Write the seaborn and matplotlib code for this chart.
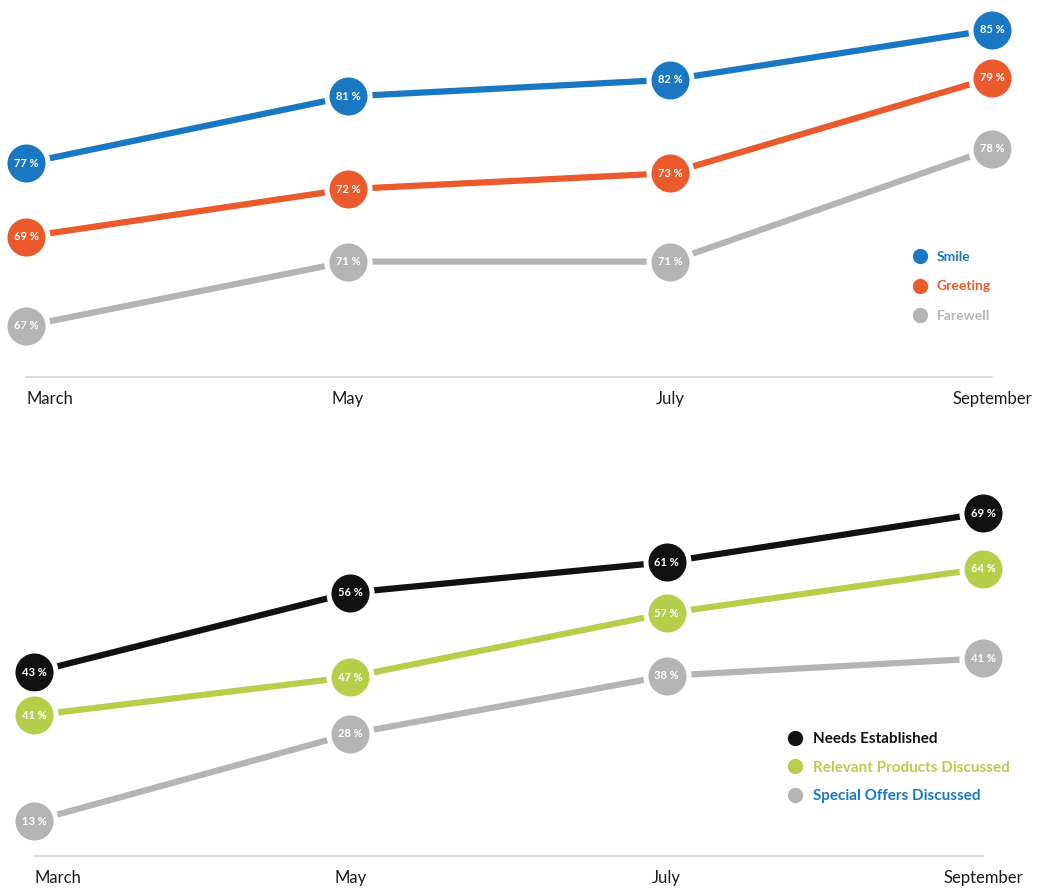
import matplotlib
matplotlib.use("Agg")
import matplotlib.pyplot as plt
from matplotlib.lines import Line2D
import seaborn as sns
import pandas as pd

months = ["March", "May", "July", "September"]

top_series = ["Smile", "Greeting", "Farewell"]
smile = [77, 81, 82, 85]
greeting = [69, 72, 73, 79]
farewell = [67, 71, 71, 78]

bottom_series = ["Needs Established", "Relevant Products Discussed", "Special Offers Discussed"]
needs = [43, 56, 61, 69]
relevant = [41, 47, 57, 64]
special = [13, 28, 38, 41]

top_colors = ["#1a78c2", "#ea5a2c", "#b4b4b4"]
bottom_colors = ["#111111", "#b6cf4b", "#b4b4b4"]
bottom_label_colors = ["#111111", "#b6cf4b", "#1a78c2"]

# each series sits on its own (hidden) value scale, as in the infographic
top_ylims = [(64.18, 85.22), (60.18, 82.26), (63.83, 85.63)]
bottom_ylims = [(12.96, 68.69), (18.95, 72.39), (6.98, 65.67)]

sns.set_theme(style="white")
plt.rcParams["font.family"] = ["Lato", "DejaVu Sans"]

W, H = 1040, 889
fig = plt.figure(figsize=(W / 100, H / 100), dpi=100)


def px_axes(x0, x1, y0, y1):
    return fig.add_axes([x0 / W, 1 - y1 / H, (x1 - x0) / W, (y1 - y0) / H])


def draw(ax, names, values, colors, label_colors, ylims, legend_anchor, legsize, spacing):
    xs = list(range(len(months)))
    ax.set_xlim(xs[0], xs[-1])
    ax.set_yticks([])
    for s in ["left", "right", "top"]:
        ax.spines[s].set_visible(False)
    ax.spines["bottom"].set_color("#d8d8d8")
    ax.spines["bottom"].set_linewidth(1.3)
    ax.set_xticks(xs)
    ax.set_xticklabels(months)
    ax.tick_params(axis="x", direction="inout", length=12, width=1.2,
                   color="#d0d0d0", pad=4, labelsize=12, labelcolor="#1a1a1a")
    ax.get_xticklabels()[0].set_horizontalalignment("left")
    ax.get_xticklabels()[0].set_x(-0.004)

    for name, vals, col, yl in zip(names, values, colors, ylims):
        tw = ax.twinx()
        for s in tw.spines.values():
            s.set_visible(False)
        tw.set_yticks([])
        df = pd.DataFrame({"x": xs, "value": vals})
        sns.lineplot(data=df, x="x", y="value", color=col, marker="o",
                     markersize=31, markeredgecolor="white", markeredgewidth=3.6,
                     linewidth=4.5, ax=tw, sort=False)
        for ln in tw.lines:
            ln.set_clip_on(False)
            ln.set_solid_capstyle("round")
        for i, v in zip(xs, vals):
            tw.text(i, v, f"{v} %", ha="center", va="center", color="white",
                    fontsize=8, fontweight="bold", zorder=10)
        tw.set_ylim(*yl)
        tw.set_xlim(xs[0], xs[-1])
        tw.set_ylabel("")
        tw.set_xlabel("")
    ax.set_xlabel("")

    handles = [Line2D([], [], marker="o", linestyle="", markersize=10,
                      markerfacecolor=c, markeredgecolor=c) for c in colors]
    fig.legend(handles, names, loc="upper left",
               bbox_to_anchor=legend_anchor, bbox_transform=fig.transFigure,
               frameon=False, handlelength=1.0, handletextpad=0.7,
               labelspacing=spacing, borderpad=0, borderaxespad=0,
               prop={"weight": "bold", "size": legsize},
               labelcolor=label_colors)


ax1 = px_axes(26, 992, 26, 377)
draw(ax1, top_series, [smile, greeting, farewell], top_colors, top_colors,
     top_ylims, (913 / W, 1 - 251 / H), 10, 1.25)

ax2 = px_axes(34, 983, 515, 856)
draw(ax2, bottom_series, [needs, relevant, special], bottom_colors,
     bottom_label_colors, bottom_ylims, (787 / W, 1 - 732 / H), 11, 0.96)

fig.savefig("out.png", dpi=100, facecolor="white")
